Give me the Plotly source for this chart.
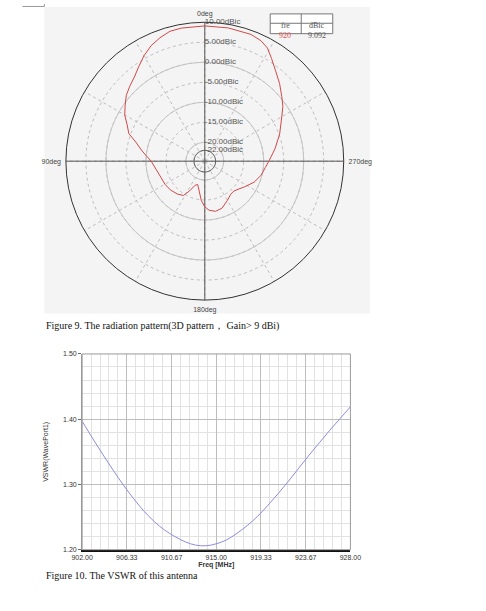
import plotly.graph_objects as go

W, H = 486, 611

# radiation pattern, 920 MHz (deg, dBic)
THETA_DEG = [0, 10, 15, 20, 25, 30, 35, 40, 45, 50, 55, 60, 65, 70, 75, 80, 85, 90,
             100, 110, 120, 130, 140, 148, 153, 158, 163, 166, 170, 175, 180, 185,
             192, 200, 210, 218, 224, 230, 237, 247, 256, 264, 270, 280, 290, 300,
             305, 310, 316, 322, 327, 331, 335, 340, 350, 360]
GAIN_DBIC = [9.09, 9.05, 8.9, 8.1, 7.1, 5.7, 4.1, 2.7, 1.8, 0.9, -0.4, -1.6, -3.3, -4.5,
             -7.0, -8.6, -10.1, -11.3, -12.4, -13.0, -13.2, -13.5, -14.0, -14.6, -16.4,
             -18.2, -18.6, -18.0, -16.9, -14.8, -13.3, -12.4, -11.9, -12.2, -13.4, -14.2,
             -14.3, -13.8, -12.9, -11.3, -10.2, -9.5, -8.7, -6.9, -4.8, -2.5, -0.9, 0.4,
             2.2, 4.0, 5.9, 7.6, 8.5, 9.0, 9.1, 9.09]

RING_VALS = [10, 5, 0, -5, -10, -15, -20, -22]
RING_TEXT = ['10.00dBic', '5.00dBic', '0.00dBic', '-5.00dBic', '-10.00dBic',
             '-15.00dBic', '-20.00dBic', '-22.00dBic']
SOLID_RINGS = [0, -10, -20]
R_MIN, R_MAX = -24.7, 10

ANGLE_TICKS = list(range(0, 360, 30))
ANGLE_TEXT = ['0deg', '', '', '90deg', '', '', '180deg', '', '', '270deg', '', '']

LEGEND_HEAD = ['fre', 'dBic']
LEGEND_ROW = ['920', '9.092']

# VSWR
FREQ = [902, 903, 904, 905, 906, 907, 908, 909, 910, 911, 912, 913, 914, 915,
        916, 917, 918, 919, 920, 921, 922, 923, 924, 925, 926, 927, 928]
VSWR = [1.397, 1.371, 1.346, 1.322, 1.299, 1.278, 1.259, 1.243, 1.230, 1.220, 1.212,
        1.207, 1.206, 1.209, 1.215, 1.225, 1.237, 1.251, 1.268, 1.286, 1.305, 1.325,
        1.345, 1.364, 1.383, 1.401, 1.419]
FREQ_TICKS = [902.0, 906.33, 910.67, 915.0, 919.33, 923.67, 928.0]
FREQ_TEXT = ['902.00', '906.33', '910.67', '915.00', '919.33', '923.67', '928.00']


def px(x):
    return x / W


def py(y):
    return 1 - y / H


SANS = 'Liberation Sans, Arial, sans-serif'
SERIF = 'Liberation Serif, Times New Roman, serif'

fig = go.Figure()

# anillos continuos encima de la rejilla punteada
for val in SOLID_RINGS:
    fig.add_trace(go.Scatterpolar(
        r=[val] * 73, theta=list(range(0, 365, 5)), mode='lines',
        line=dict(color='#c4c4c4', width=1), hoverinfo='skip', showlegend=False,
    ))
fig.add_trace(go.Scatterpolar(
    r=[RING_VALS[-1]] * 73, theta=list(range(0, 365, 5)), mode='lines',
    line=dict(color='#555555', width=1), hoverinfo='skip', showlegend=False,
))
# ejes en cruz
for ang in (0, 90):
    fig.add_trace(go.Scatterpolar(
        r=[R_MAX, R_MIN, R_MAX], theta=[ang, ang, ang + 180], mode='lines',
        line=dict(color='#555555', width=1), hoverinfo='skip', showlegend=False,
    ))

fig.add_trace(go.Scatterpolar(
    r=GAIN_DBIC, theta=THETA_DEG, mode='lines',
    line=dict(color='#d04848', width=1), showlegend=False,
))

# etiquetas de los anillos, junto al eje vertical
fig.add_trace(go.Scatterpolar(
    r=RING_VALS, theta=[0] * len(RING_VALS), mode='text', text=RING_TEXT,
    textposition='middle right', textfont=dict(family=SANS, size=8, color='#555'),
    hoverinfo='skip', showlegend=False,
))

fig.add_trace(go.Scatter(
    x=FREQ, y=VSWR, mode='lines', line=dict(color='#8c8ce0', width=1, shape='spline'),
    showlegend=False, xaxis='x', yaxis='y',
))

fig.update_layout(
    width=W, height=H,
    margin=dict(l=0, r=0, t=0, b=0),
    paper_bgcolor='white',
    plot_bgcolor='white',
    font=dict(family=SANS, size=7, color='#333'),
    polar=dict(
        domain=dict(x=[px(57.5), px(348.5)], y=[py(304.5), py(13.5)]),
        bgcolor='rgba(0,0,0,0)',
        radialaxis=dict(
            range=[R_MIN, R_MAX], angle=90,
            tickmode='array', tickvals=RING_VALS,
            showline=False, ticks='', showticklabels=False,
            gridcolor='#bcbcbc', griddash='dot', gridwidth=1,
        ),
        angularaxis=dict(
            rotation=90, direction='counterclockwise',
            tickmode='array', tickvals=ANGLE_TICKS, ticktext=ANGLE_TEXT,
            ticks='outside', ticklen=3, tickcolor='rgba(0,0,0,0)',
            tickfont=dict(family=SANS, size=7, color='#444'),
            showline=True, linecolor='#333333', linewidth=1,
            gridcolor='#bcbcbc', griddash='dot', gridwidth=1,
        ),
    ),
    xaxis=dict(
        domain=[px(74.5), px(355.5)], anchor='y', range=[902, 928],
        tickmode='array', tickvals=FREQ_TICKS, ticktext=FREQ_TEXT,
        showgrid=True, gridcolor='#bdbdbd', gridwidth=1,
        minor=dict(tickmode='linear', tick0=902, dtick=26 / 30, showgrid=True,
                   gridcolor='#e2e2e2', gridwidth=1),
        showline=True, linecolor='#111', linewidth=2,
        ticks='', zeroline=False,
        tickfont=dict(family=SANS, size=7, color='#333'),
        title=dict(text='<b>Freq [MHz]</b>', font=dict(family=SANS, size=7, color='#333'),
                   standoff=2),
    ),
    yaxis=dict(
        domain=[py(552), py(354)], anchor='x', range=[1.2, 1.5],
        tickmode='linear', tick0=1.2, dtick=0.1, tickformat='.2f',
        showgrid=True, gridcolor='#bdbdbd', gridwidth=1,
        minor=dict(tickmode='linear', tick0=1.2, dtick=0.02, showgrid=True,
                   gridcolor='#e2e2e2', gridwidth=1),
        showline=True, linecolor='#999', linewidth=1,
        ticks='outside', ticklen=3, tickcolor='#666', zeroline=False,
        tickfont=dict(family=SANS, size=7, color='#333'),
        title=dict(text='VSWR(WavePort1)', font=dict(family=SANS, size=7, color='#333'),
                   standoff=13),
    ),
)

shapes = [
    # fondo gris del diagrama polar
    dict(type='rect', xref='paper', yref='paper', x0=px(35), x1=px(376), y0=py(313), y1=py(3),
         fillcolor='#f4f4f4', line=dict(width=0), layer='below'),
    # pestaña superior izquierda
    dict(type='path', xref='paper', yref='paper',
         path=f'M {px(12)},{py(2.5)} L {px(35)},{py(2.5)} L {px(35)},{py(0)}',
         line=dict(color='#999', width=1)),
    # cuadro de la leyenda
    dict(type='rect', xref='paper', yref='paper', x0=px(271.5), x1=px(337), y0=py(30), y1=py(10),
         fillcolor='white', line=dict(color='#777', width=1)),
    dict(type='line', xref='paper', yref='paper', x0=px(271.5), x1=px(337), y0=py(19.5), y1=py(19.5),
         line=dict(color='#777', width=1)),
    dict(type='line', xref='paper', yref='paper', x0=px(304), x1=px(304), y0=py(10), y1=py(30),
         line=dict(color='#777', width=1)),
    # marco del gráfico VSWR
    dict(type='rect', xref='x domain', yref='y domain', x0=0, x1=1, y0=0, y1=1,
         line=dict(color='#9a9a9a', width=1), layer='above'),
]

annotations = [
    dict(x=px(287.5), y=py(15), text=LEGEND_HEAD[0], font=dict(family=SERIF, size=8, color='#555')),
    dict(x=px(320.5), y=py(15), text=LEGEND_HEAD[1], font=dict(family=SERIF, size=8, color='#555')),
    dict(x=px(287.5), y=py(25), text=LEGEND_ROW[0], font=dict(family=SERIF, size=8, color='#e05050')),
    dict(x=px(320.5), y=py(25), text=LEGEND_ROW[1], font=dict(family=SERIF, size=8, color='#555')),
    dict(x=px(35), y=py(326), xanchor='left', yanchor='middle',
         text='Figure 9. The radiation pattern(3D pattern， Gain> 9 dBi)',
         font=dict(family=SERIF, size=10, color='#111')),
    dict(x=px(35), y=py(578), xanchor='left', yanchor='middle',
         text='Figure 10. The VSWR of this antenna',
         font=dict(family=SERIF, size=10, color='#111')),
]
for a in annotations:
    a.setdefault('xref', 'paper')
    a.setdefault('yref', 'paper')
    a.setdefault('showarrow', False)

fig.update_layout(shapes=shapes, annotations=annotations)

fig.write_html("out.html", config={'displayModeBar': False},
               post_script="document.body.style.margin='0';")
